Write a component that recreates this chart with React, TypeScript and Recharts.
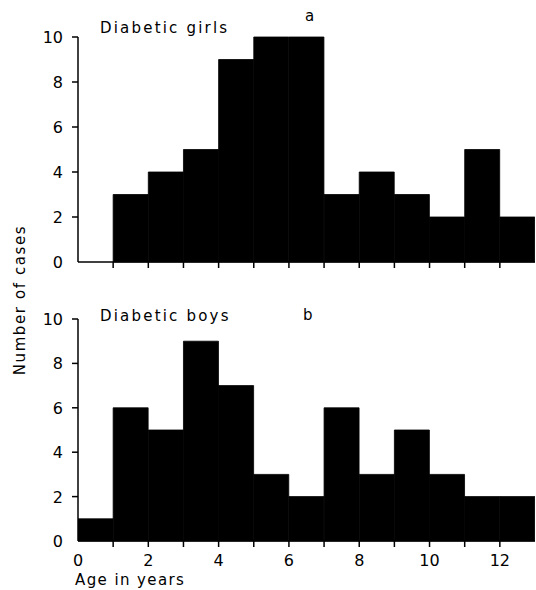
import { BarChart, Bar, XAxis, YAxis } from 'recharts';

// age bins: [start, start + 1)
const ageStarts = [0, 1, 2, 3, 4, 5, 6, 7, 8, 9, 10, 11, 12];
const girlsCases = [0, 3, 4, 5, 9, 10, 10, 3, 4, 3, 2, 5, 2];
const boysCases = [1, 6, 5, 9, 7, 3, 2, 6, 3, 5, 3, 2, 2];
const xTicks = [0, 1, 2, 3, 4, 5, 6, 7, 8, 9, 10, 11, 12];
const yTicks = [0, 1, 2, 3, 4, 5, 6, 7, 8, 9, 10];

const FONT = '"DejaVu Sans", sans-serif';

const girlsData = ageStarts.map((a, i) => ({ mid: a + 0.5, cases: girlsCases[i] }));
const boysData = ageStarts.map((a, i) => ({ mid: a + 0.5, cases: boysCases[i] }));

function XTick(props: any) {
  const { x, y, payload, showLabel } = props;
  const v = payload.value;
  return (
    <g>
      {v > 0 && <line x1={x} x2={x} y1={y} y2={y + 6} stroke="#000" strokeWidth={1.5} />}
      {showLabel && v % 2 === 0 && (
        <text x={x} y={y + 25} textAnchor="middle" fontFamily={FONT} fontSize={16} fill="#000">
          {v}
        </text>
      )}
    </g>
  );
}

function YTick(props: any) {
  const { x, y, payload } = props;
  const v = payload.value;
  return (
    <g>
      {v > 0 && <line x1={x - 6} x2={x} y1={y} y2={y} stroke="#000" strokeWidth={1.5} />}
      {v % 2 === 0 && (
        <text x={x - 15} y={y + 6} textAnchor="end" fontFamily={FONT} fontSize={16} fill="#000">
          {v}
        </text>
      )}
    </g>
  );
}

function Panel({ data, xLabels, top, height, margin }: any) {
  return (
    <div style={{ position: 'absolute', left: 0, top, width: 536, height }}>
      <BarChart width={536} height={height} data={data} margin={margin} barCategoryGap={0} barGap={0}>
        <XAxis
          dataKey="mid"
          type="number"
          domain={[0, 13]}
          ticks={xTicks}
          allowDataOverflow
          tickLine={false}
          tickSize={0}
          tickMargin={0}
          height={xLabels ? 30 : 18}
          axisLine={{ stroke: '#000', strokeWidth: 1.5 }}
          tick={<XTick showLabel={xLabels} />}
        />
        <YAxis
          domain={[0, 10]}
          ticks={yTicks}
          width={78}
          tickLine={false}
          tickSize={0}
          tickMargin={0}
          axisLine={{ stroke: '#000', strokeWidth: 1.5 }}
          tick={<YTick />}
        />
        <Bar dataKey="cases" fill="#000" stroke="#000" strokeWidth={0.8} isAnimationActive={false} />
      </BarChart>
    </div>
  );
}

const textStyle: any = { position: 'absolute', fontFamily: FONT, fontSize: 15, color: '#000', whiteSpace: 'nowrap', lineHeight: 1 };

export default function App() {
  return (
    <div style={{ position: 'absolute', left: 0, top: 0, width: 536, height: 590, background: '#fff' }}>
      <Panel data={girlsData} xLabels={false} top={0} height={280} margin={{ top: 37, right: 1, bottom: 0, left: 0 }} />
      <Panel data={boysData} xLabels={true} top={280} height={310} margin={{ top: 39, right: 1, bottom: 19, left: 0 }} />
      <div style={{ ...textStyle, left: 100, top: 21, letterSpacing: 2.2 }}>Diabetic girls</div>
      <div style={{ ...textStyle, left: 305, top: 9 }}>a</div>
      <div style={{ ...textStyle, left: 100, top: 309, letterSpacing: 2.2 }}>Diabetic boys</div>
      <div style={{ ...textStyle, left: 303, top: 308 }}>b</div>
      <div style={{ ...textStyle, left: 75, top: 573, letterSpacing: 1.4 }}>Age in years</div>
      <div
        style={{
          ...textStyle,
          left: 20,
          top: 300,
          letterSpacing: 1.6,
          transform: 'translate(-50%, -50%) rotate(-90deg)',
        }}
      >
        Number of cases
      </div>
    </div>
  );
}
